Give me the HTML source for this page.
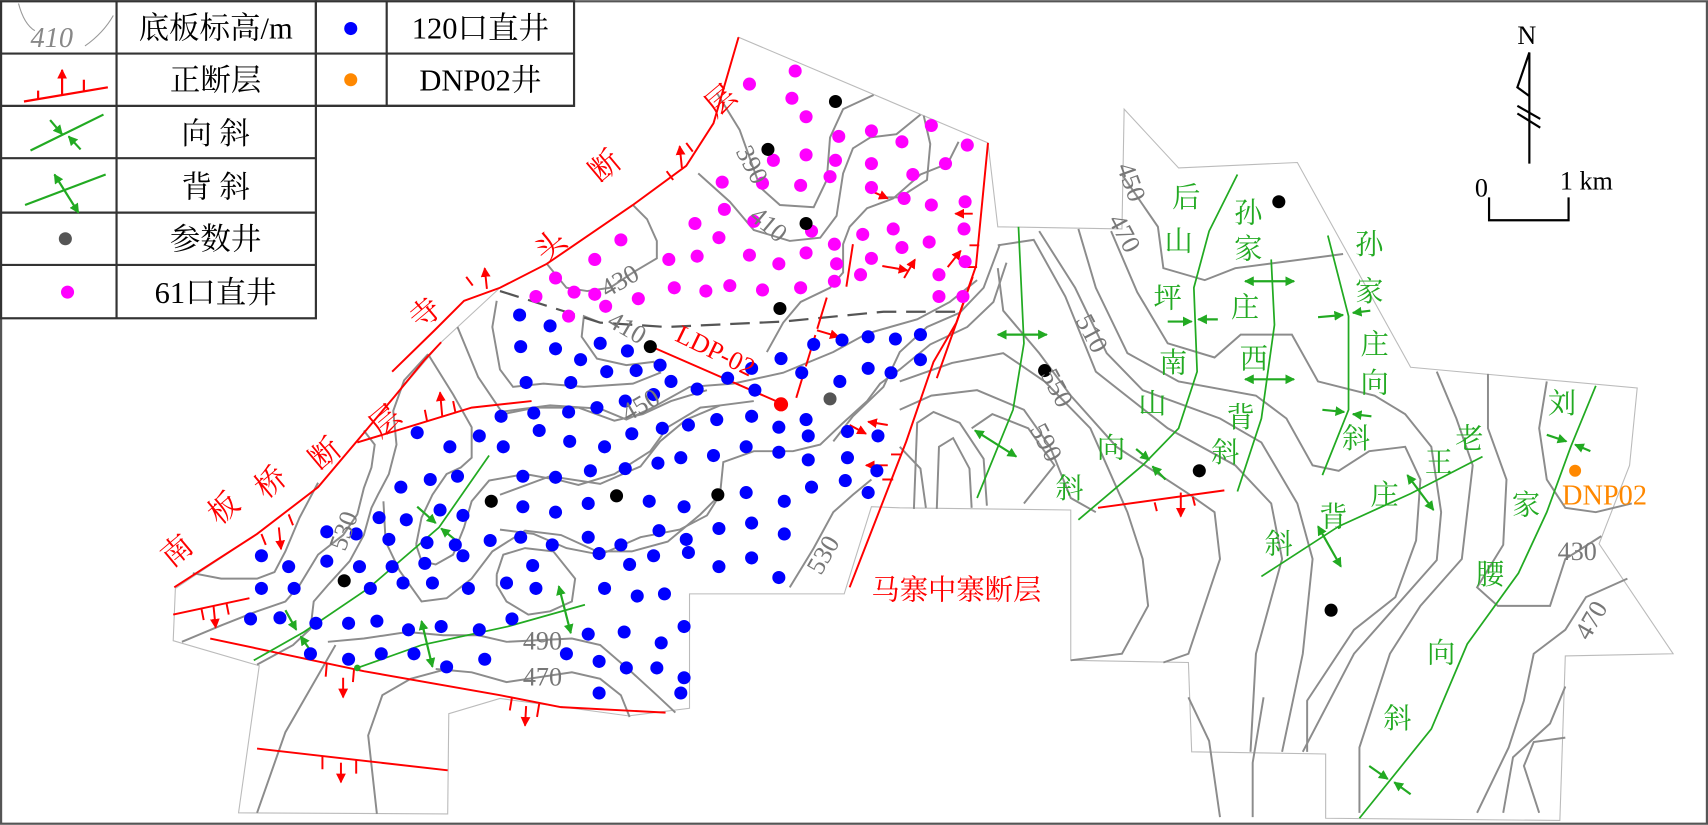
<!DOCTYPE html>
<html><head><meta charset="utf-8"><style>
html,body{margin:0;padding:0;background:#fff;}
svg{display:block;}
text{font-family:"Liberation Serif","Noto Serif CJK SC","Noto Sans CJK SC",serif;}
</style></head><body>
<svg width="1708" height="825" viewBox="0 0 1568 757" xmlns="http://www.w3.org/2000/svg">
<defs>
<marker id="ar" markerWidth="9" markerHeight="9" refX="8" refY="4.5" orient="auto" markerUnits="userSpaceOnUse"><path d="M0,0 L9,4.5 L0,9 z" fill="#f00"/></marker>
<marker id="ag" markerWidth="9" markerHeight="9" refX="8" refY="4.5" orient="auto" markerUnits="userSpaceOnUse"><path d="M0,0 L9,4.5 L0,9 z" fill="#2a2"/></marker>
<marker id="ags" markerWidth="9" markerHeight="9" refX="1" refY="4.5" orient="auto" markerUnits="userSpaceOnUse"><path d="M9,0 L0,4.5 L9,9 z" fill="#2a2"/></marker>
</defs>
<rect x="1" y="1" width="1566" height="755" fill="#fff" stroke="#555" stroke-width="2"/>

<g fill="none" stroke="#bbb" stroke-width="1">
<polyline points="161,540 159,588 238,611 219,746 411,747 412,655 459,641 577,657 633,650 633,545 775,545 800,465 826,466 983,468 983,606 1091,608 1094,690 1217,692 1217,751 1432,753 1437,602 1536,600 1468,499 1496,427 1503,356 1295,337 1191,149 1082,154 1032,100 1030,210 916,208 907,131 678,34 655,113 630,152 581,188 502,242 459,264 405,314 330,402 292,447 236,490 161,540"/>
</g>

<g fill="none" stroke="#8c8c8c" stroke-width="1.8">
<polyline points="1030,160 1063,208 1068,246 1106,257 1134,246 1233,233"/>
<polyline points="1020,212 1044,268 1072,315 1115,328 1139,307 1186,307 1210,350 1262,363 1290,380 1314,410 1323,470 1319,514 1243,600 1196,690"/>
<polyline points="990,210 1006,264 1035,324 1082,350 1153,363 1181,384 1205,427 1229,432 1257,414 1290,410 1304,440 1300,496 1281,548 1243,578 1200,643 1200,690"/>
<polyline points="954,212 987,264 1016,324 1049,358 1120,384 1158,406 1191,462 1205,513 1196,600 1177,690"/>
<polyline points="916,225 949,220 978,272 1006,341 1072,393 1134,427 1167,462 1177,513 1153,600 1148,690"/>
<polyline points="916,246 921,285 954,324 983,363 1025,410 1091,453 1115,470 1120,513 1091,600 1068,608"/>
<polyline points="826,350 874,333 921,324 959,350 1001,393 1016,427 1035,470 1049,513 1054,556 1030,600 983,606"/>
<polyline points="826,376 855,363 897,358 940,376 964,410 983,457 1006,470"/>
<polyline points="892,393 911,380 944,393 968,427 940,462"/>
<polyline points="826,410 845,430 850,466"/>
<polyline points="1420,350 1413,393 1420,440 1437,466 1465,470 1498,462"/>
<polyline points="1366,343 1366,393 1383,440 1380,500 1356,539 1375,556 1423,556 1437,513 1470,492"/>
<polyline points="1319,341 1337,384 1352,427 1347,470 1342,513 1304,556 1276,600 1262,643 1248,686 1248,746"/>
<polyline points="1494,531 1456,548 1437,578 1408,600 1399,643 1385,686 1356,746"/>
<polyline points="1437,630 1423,664 1389,695 1380,746"/>
<polyline points="1437,677 1408,681 1399,703 1413,746"/>
<polyline points="1091,640 1110,680 1120,750"/>
<polyline points="1160,640 1150,700 1150,750"/>
<polyline points="658,85 679,119 698,172 716,188 747,190 759,165 762,126 774,100 802,87"/>
<polyline points="641,159 670,185 692,211 725,221 753,218 768,198 774,159 783,136 799,126 823,123 845,105"/>
<polyline points="848,106 854,132 851,165 826,181 814,181"/>
<polyline points="459,378 505,372 551,375 575,385 597,375 633,355 673,352 719,342 765,323 796,306 842,293 872,277 897,257"/>
<polyline points="551,296 536,290 534,309 548,329 575,335 600,332 606,342 581,352 536,355 499,352 471,355 459,339 452,300 456,276"/>
<polyline points="502,242 520,264 539,267 560,264 581,250 603,237 603,221 594,201 581,188"/>
<polyline points="704,323 719,296 735,277 762,264 774,250 774,224 780,208 796,191 820,182 845,160 870,150 880,130"/>
<polyline points="765,405 783,382 811,355 826,323 851,300 881,287 903,264 918,224"/>
<polyline points="661,454 664,424 692,414 728,414 753,408 774,388 796,368 808,352 826,339 854,316 888,300 912,277 924,241"/>
<polyline points="459,454 505,437 551,444 588,428 606,405 630,385 661,372 692,368"/>
<polyline points="459,486 490,490 520,503 551,509 588,493 624,486 649,473 661,454"/>
<polyline points="725,539 747,503 765,470 783,454 800,440"/>
<polyline points="839,467 842,388 857,378 881,388 903,421 906,464"/>
<polyline points="860,467 862,410 875,402 890,430 892,466"/>
<polyline points="177,526 203,531 236,531 252,525 262,506 275,475 292,443"/>
<polyline points="167,589 203,574 236,561 262,552 275,537 292,509 315,491 328,472 334,448 341,429 344,408 334,395"/>
<polyline points="236,610 269,592 285,577 288,552 301,537 321,515 334,491 341,466 347,454 357,435 364,408 361,377 371,349 393,325"/>
<polyline points="352,460 354,497 367,524 387,552 410,549 433,531 452,506 482,487 515,491 548,506 580,506 613,497 643,472 661,454"/>
<polyline points="382,500 387,515 400,518 416,509 426,484 433,460 449,441 482,435 515,441 531,445 564,435 597,414 613,392 643,374 661,372"/>
<polyline points="393,325 416,362 433,392 433,420 423,429 410,435 397,454 387,475 382,500"/>
<polyline points="420,300 439,346 462,380 492,374 531,374 564,386 590,380 616,368 649,358"/>
<polyline points="456,527 462,509 482,503 508,506 528,531 525,552 505,561 485,564 465,552 456,537 456,527"/>
<polyline points="301,589 334,586 374,580 407,583 439,583 465,589 525,586 551,592 580,617 603,638 620,654"/>
<polyline points="400,614 433,617 465,626 525,617 551,623 570,638 578,658"/>
<polyline points="236,746 262,672 285,632 308,592"/>
<polyline points="346,747 338,675 351,638 377,623 410,614"/>
</g>

<polyline points="459,267 551,296 612,300 719,295 811,286 878,286" fill="none" stroke="#555" stroke-width="2" stroke-dasharray="18,9"/>

<g fill="none" stroke="#f00" stroke-width="1.8">
<polyline points="160,539 236,490 292,447 330,402 362,364 390,330 405,314"/>
<polyline points="360,341 399,303 426,276 459,264 502,242 581,188 630,152 655,113 678,34"/>
<polyline points="328,406 384,389 433,374 488,368"/>
<polyline points="159,564 229,549"/>
<polyline points="193,586 334,616 459,638 515,649 611,654"/>
<polyline points="236,687 411,707"/>
<polyline points="907,131 896,244 878,296 857,332 832,405 808,467 780,539"/>
<polyline points="893,254 860,347"/>
<polyline points="759,273 731,365" stroke-dasharray="30,6"/>
<polyline points="783,224 777,263"/>
<polyline points="598,318 717,370"/>
<polyline points="1008,466 1124,450"/>
<path d="M240,490 l4,10 M265,472 l4,10 M392,386 l-2,-10 M418,378 l-2,-10 M185,559 l2,10 M208,554 l2,10 M300,609 l-1,12 M325,614 l-1,12 M470,640 l-2,12 M495,646 l-2,12 M296,694 l0,12 M327,698 l0,12 M434,262 l-6,-8 M618,165 l-6,-8 M636,139 l-6,-8 M1060,461 l2,8 M1095,456 l2,8 M899,225 l-9,0 M897,245 l-9,0 M828,417 l-10,0 M820,440 l-10,0"/>
</g>
<g stroke="#f00" stroke-width="1.8" marker-end="url(#ar)">
<line x1="256" y1="484" x2="258" y2="504"/>
<line x1="406" y1="382" x2="404" y2="360"/>
<line x1="196" y1="556" x2="198" y2="576"/>
<line x1="315" y1="622" x2="315" y2="640"/>
<line x1="483" y1="648" x2="482" y2="666"/>
<line x1="313" y1="700" x2="313" y2="718"/>
<line x1="447" y1="265" x2="445" y2="246"/>
<line x1="626" y1="154" x2="624" y2="134"/>
<line x1="1084" y1="452" x2="1084" y2="474"/>
<line x1="795" y1="173" x2="815" y2="182"/>
<line x1="810" y1="244" x2="833" y2="248"/>
<line x1="830" y1="255" x2="840" y2="238"/>
<line x1="870" y1="245" x2="882" y2="230"/>
<line x1="893" y1="196" x2="877" y2="196"/>
<line x1="750" y1="303" x2="770" y2="309"/>
<line x1="780" y1="390" x2="795" y2="398"/>
<line x1="815" y1="390" x2="797" y2="387"/>
<line x1="815" y1="427" x2="795" y2="427"/>
</g>

<g fill="none" stroke="#2a2" stroke-width="1.6">
<polyline points="449,418 403,484 338,540 279,580 233,606"/>
<polyline points="328,613 387,592 466,575 537,555"/>
<polyline points="1136,160 1110,212 1096,264 1099,341 1082,393 1049,427 990,477"/>
<polyline points="1167,238 1170,298 1158,384 1136,451"/>
<polyline points="1219,216 1238,290 1238,376 1214,436"/>
<polyline points="1361,419 1295,453 1229,483 1158,529"/>
<polyline points="1465,354 1442,410 1420,470 1394,526 1347,591 1314,669 1248,751"/>
<polyline points="935,208 940,315 930,376 897,457"/>
</g>
<circle cx="328" cy="613" r="3" fill="#2a2"/>
<g stroke="#2a2" stroke-width="2">
<line x1="387" y1="570" x2="397" y2="612" marker-start="url(#ags)" marker-end="url(#ag)"/>
<line x1="513" y1="538" x2="524" y2="581" marker-start="url(#ags)" marker-end="url(#ag)"/>
<line x1="1143" y1="258" x2="1188" y2="258" marker-start="url(#ags)" marker-end="url(#ag)"/>
<line x1="1143" y1="348" x2="1188" y2="348" marker-start="url(#ags)" marker-end="url(#ag)"/>
<line x1="1292" y1="436" x2="1316" y2="468" marker-start="url(#ags)" marker-end="url(#ag)"/>
<line x1="1210" y1="483" x2="1231" y2="520" marker-start="url(#ags)" marker-end="url(#ag)"/>
<line x1="916" y1="307" x2="961" y2="307" marker-start="url(#ags)" marker-end="url(#ag)"/>
<line x1="895" y1="395" x2="933" y2="419" marker-start="url(#ags)" marker-end="url(#ag)"/>
<line x1="383" y1="465" x2="400" y2="480" marker-end="url(#ag)"/>
<line x1="420" y1="497" x2="405" y2="485" marker-end="url(#ag)"/>
<line x1="262" y1="560" x2="272" y2="578" marker-end="url(#ag)"/>
<line x1="287" y1="600" x2="276" y2="584" marker-end="url(#ag)"/>
<line x1="1072" y1="295" x2="1094" y2="295" marker-end="url(#ag)"/>
<line x1="1118" y1="293" x2="1100" y2="293" marker-end="url(#ag)"/>
<line x1="1043" y1="412" x2="1055" y2="422" marker-end="url(#ag)"/>
<line x1="1070" y1="440" x2="1058" y2="428" marker-end="url(#ag)"/>
<line x1="1210" y1="291" x2="1233" y2="289" marker-end="url(#ag)"/>
<line x1="1258" y1="285" x2="1242" y2="287" marker-end="url(#ag)"/>
<line x1="1214" y1="376" x2="1234" y2="378" marker-end="url(#ag)"/>
<line x1="1259" y1="382" x2="1242" y2="380" marker-end="url(#ag)"/>
<line x1="1420" y1="399" x2="1438" y2="405" marker-end="url(#ag)"/>
<line x1="1460" y1="414" x2="1446" y2="408" marker-end="url(#ag)"/>
<line x1="1257" y1="703" x2="1274" y2="715" marker-end="url(#ag)"/>
<line x1="1295" y1="729" x2="1280" y2="718" marker-end="url(#ag)"/>
</g>

<g fill="#f0f">
<circle cx="730" cy="65" r="6"/><circle cx="688" cy="77" r="6"/><circle cx="727" cy="90" r="6"/><circle cx="740" cy="107" r="6"/><circle cx="770" cy="125" r="6"/><circle cx="800" cy="120" r="6"/><circle cx="828" cy="130" r="6"/><circle cx="855" cy="115" r="6"/><circle cx="888" cy="133" r="6"/><circle cx="710" cy="147" r="6"/><circle cx="740" cy="142" r="6"/><circle cx="767" cy="147" r="6"/><circle cx="800" cy="150" r="6"/><circle cx="838" cy="160" r="6"/><circle cx="868" cy="150" r="6"/><circle cx="663" cy="167" r="6"/><circle cx="700" cy="168" r="6"/><circle cx="735" cy="170" r="6"/><circle cx="762" cy="162" r="6"/><circle cx="800" cy="172" r="6"/><circle cx="830" cy="182" r="6"/><circle cx="855" cy="188" r="6"/><circle cx="886" cy="185" r="6"/><circle cx="638" cy="205" r="6"/><circle cx="665" cy="192" r="6"/><circle cx="692" cy="203" r="6"/><circle cx="745" cy="212" r="6"/><circle cx="766" cy="224" r="6"/><circle cx="792" cy="215" r="6"/><circle cx="820" cy="210" r="6"/><circle cx="853" cy="222" r="6"/><circle cx="885" cy="210" r="6"/><circle cx="660" cy="218" r="6"/><circle cx="688" cy="234" r="6"/><circle cx="715" cy="242" r="6"/><circle cx="740" cy="232" r="6"/><circle cx="768" cy="242" r="6"/><circle cx="800" cy="237" r="6"/><circle cx="828" cy="227" r="6"/><circle cx="862" cy="252" r="6"/><circle cx="886" cy="240" r="6"/><circle cx="670" cy="262" r="6"/><circle cx="700" cy="266" r="6"/><circle cx="735" cy="264" r="6"/><circle cx="766" cy="258" r="6"/><circle cx="790" cy="252" r="6"/><circle cx="862" cy="272" r="6"/><circle cx="884" cy="272" r="6"/><circle cx="546" cy="238" r="6"/><circle cx="570" cy="220" r="6"/><circle cx="510" cy="255" r="6"/><circle cx="527" cy="268" r="6"/><circle cx="556" cy="281" r="6"/><circle cx="586" cy="274" r="6"/><circle cx="619" cy="264" r="6"/><circle cx="648" cy="267" r="6"/><circle cx="522" cy="290" r="6"/><circle cx="546" cy="270" r="6"/><circle cx="492" cy="272" r="6"/><circle cx="614" cy="238" r="6"/><circle cx="640" cy="235" r="6"/>
</g>
<g fill="#00f">
<circle cx="477" cy="289" r="6"/><circle cx="505" cy="299" r="6"/><circle cx="478" cy="318" r="6"/><circle cx="510" cy="320" r="6"/><circle cx="533" cy="330" r="6"/><circle cx="551" cy="315" r="6"/><circle cx="576" cy="322" r="6"/><circle cx="483" cy="351" r="6"/><circle cx="524" cy="351" r="6"/><circle cx="557" cy="341" r="6"/><circle cx="584" cy="340" r="6"/><circle cx="606" cy="335" r="6"/><circle cx="460" cy="382" r="6"/><circle cx="490" cy="379" r="6"/><circle cx="522" cy="378" r="6"/><circle cx="548" cy="374" r="6"/><circle cx="574" cy="368" r="6"/><circle cx="600" cy="362" r="6"/><circle cx="616" cy="350" r="6"/><circle cx="640" cy="357" r="6"/><circle cx="668" cy="347" r="6"/><circle cx="690" cy="338" r="6"/><circle cx="717" cy="329" r="6"/><circle cx="747" cy="316" r="6"/><circle cx="773" cy="312" r="6"/><circle cx="797" cy="309" r="6"/><circle cx="822" cy="311" r="6"/><circle cx="845" cy="307" r="6"/><circle cx="736" cy="342" r="6"/><circle cx="771" cy="350" r="6"/><circle cx="797" cy="338" r="6"/><circle cx="818" cy="342" r="6"/><circle cx="845" cy="330" r="6"/><circle cx="693" cy="358" r="6"/><circle cx="740" cy="385" r="6"/><circle cx="742" cy="400" r="6"/><circle cx="778" cy="396" r="6"/><circle cx="806" cy="400" r="6"/><circle cx="778" cy="420" r="6"/><circle cx="797" cy="452" r="6"/><circle cx="776" cy="441" r="6"/><circle cx="805" cy="432" r="6"/>
<circle cx="383" cy="397" r="6"/><circle cx="413" cy="410" r="6"/><circle cx="440" cy="400" r="6"/><circle cx="462" cy="410" r="6"/><circle cx="495" cy="395" r="6"/><circle cx="523" cy="405" r="6"/><circle cx="555" cy="410" r="6"/><circle cx="580" cy="398" r="6"/><circle cx="608" cy="393" r="6"/><circle cx="632" cy="390" r="6"/><circle cx="658" cy="385" r="6"/><circle cx="690" cy="382" r="6"/><circle cx="715" cy="392" r="6"/>
<circle cx="368" cy="447" r="6"/><circle cx="395" cy="440" r="6"/><circle cx="420" cy="437" r="6"/><circle cx="480" cy="437" r="6"/><circle cx="510" cy="438" r="6"/><circle cx="542" cy="432" r="6"/><circle cx="574" cy="430" r="6"/><circle cx="604" cy="425" r="6"/><circle cx="625" cy="420" r="6"/><circle cx="655" cy="418" r="6"/><circle cx="685" cy="410" r="6"/><circle cx="715" cy="415" r="6"/><circle cx="742" cy="422" r="6"/>
<circle cx="348" cy="475" r="6"/><circle cx="373" cy="477" r="6"/><circle cx="404" cy="468" r="6"/><circle cx="425" cy="473" r="6"/><circle cx="480" cy="465" r="6"/><circle cx="510" cy="470" r="6"/><circle cx="540" cy="462" r="6"/><circle cx="596" cy="460" r="6"/><circle cx="628" cy="465" r="6"/><circle cx="685" cy="452" r="6"/><circle cx="720" cy="460" r="6"/><circle cx="745" cy="447" r="6"/>
<circle cx="300" cy="488" r="6"/><circle cx="327" cy="490" r="6"/><circle cx="357" cy="495" r="6"/><circle cx="392" cy="498" r="6"/><circle cx="418" cy="500" r="6"/><circle cx="450" cy="496" r="6"/><circle cx="478" cy="493" r="6"/><circle cx="507" cy="500" r="6"/><circle cx="540" cy="493" r="6"/><circle cx="570" cy="500" r="6"/><circle cx="605" cy="487" r="6"/><circle cx="630" cy="495" r="6"/><circle cx="660" cy="485" r="6"/><circle cx="690" cy="480" r="6"/><circle cx="720" cy="490" r="6"/>
<circle cx="240" cy="510" r="6"/><circle cx="265" cy="520" r="6"/><circle cx="300" cy="515" r="6"/><circle cx="330" cy="520" r="6"/><circle cx="360" cy="520" r="6"/><circle cx="390" cy="517" r="6"/><circle cx="425" cy="510" r="6"/><circle cx="489" cy="519" r="6"/><circle cx="550" cy="508" r="6"/><circle cx="578" cy="518" r="6"/><circle cx="600" cy="510" r="6"/><circle cx="632" cy="507" r="6"/><circle cx="660" cy="520" r="6"/><circle cx="690" cy="512" r="6"/><circle cx="715" cy="530" r="6"/>
<circle cx="240" cy="540" r="6"/><circle cx="270" cy="540" r="6"/><circle cx="340" cy="540" r="6"/><circle cx="370" cy="535" r="6"/><circle cx="397" cy="535" r="6"/><circle cx="430" cy="540" r="6"/><circle cx="465" cy="535" r="6"/><circle cx="492" cy="540" r="6"/><circle cx="555" cy="540" r="6"/><circle cx="585" cy="547" r="6"/><circle cx="610" cy="545" r="6"/>
<circle cx="230" cy="568" r="6"/><circle cx="257" cy="567" r="6"/><circle cx="290" cy="572" r="6"/><circle cx="320" cy="572" r="6"/><circle cx="346" cy="570" r="6"/><circle cx="375" cy="578" r="6"/><circle cx="405" cy="575" r="6"/><circle cx="440" cy="578" r="6"/><circle cx="470" cy="568" r="6"/><circle cx="540" cy="582" r="6"/><circle cx="573" cy="580" r="6"/><circle cx="607" cy="590" r="6"/><circle cx="628" cy="575" r="6"/>
<circle cx="285" cy="600" r="6"/><circle cx="320" cy="605" r="6"/><circle cx="350" cy="600" r="6"/><circle cx="380" cy="600" r="6"/><circle cx="410" cy="612" r="6"/><circle cx="445" cy="605" r="6"/><circle cx="520" cy="600" r="6"/><circle cx="550" cy="607" r="6"/><circle cx="575" cy="613" r="6"/><circle cx="603" cy="613" r="6"/><circle cx="628" cy="622" r="6"/>
<circle cx="550" cy="636" r="6"/><circle cx="625" cy="636" r="6"/>
</g>
<g fill="#000">
<circle cx="767" cy="93" r="6"/><circle cx="705" cy="137" r="6"/><circle cx="740" cy="205" r="6"/><circle cx="716" cy="283" r="6"/><circle cx="597" cy="318" r="6"/><circle cx="451" cy="460" r="6"/><circle cx="316" cy="533" r="6"/><circle cx="566" cy="455" r="6"/><circle cx="659" cy="454" r="6"/><circle cx="1174" cy="185" r="6"/><circle cx="959" cy="340" r="6"/><circle cx="1101" cy="432" r="6"/><circle cx="1222" cy="560" r="6"/>
</g>
<circle cx="762" cy="366" r="6" fill="#555"/>
<circle cx="717" cy="371" r="6.5" fill="#f00"/>
<circle cx="1446" cy="432" r="5.5" fill="#f80"/>

<g fill="#f00" font-size="28">
<text x="148" y="515" transform="rotate(-40 162 505)">南</text>
<text x="191" y="476" transform="rotate(-40 205 466)">板</text>
<text x="234" y="452" transform="rotate(-40 248 442)">桥</text>
<text x="284" y="426" transform="rotate(-40 298 416)">断</text>
<text x="339" y="396" transform="rotate(-40 353 386)">层</text>
<text x="376" y="297" transform="rotate(-40 390 287)">寺</text>
<text x="491" y="235" transform="rotate(-40 505 225)">头</text>
<text x="541" y="162" transform="rotate(-40 555 152)">断</text>
<text x="647" y="102" transform="rotate(-40 661 92)">层</text>
<text x="800" y="550" font-size="26">马寨中寨断层</text>
<text x="615" y="332" font-size="24" transform="rotate(26 660 330)">LDP-02</text>
</g>
<g fill="#777" font-size="24">
<text x="1022" y="173" transform="rotate(70 1038 165)">450</text>
<text x="1015" y="221" transform="rotate(62 1032 213)">470</text>
<text x="985" y="313" transform="rotate(62 1002 305)">510</text>
<text x="953" y="363" transform="rotate(62 970 355)">550</text>
<text x="943" y="413" transform="rotate(62 960 405)">590</text>
<text x="1430" y="514">430</text>
<text x="1443" y="578" transform="rotate(-60 1460 570)">470</text>
<text x="480" y="596">490</text>
<text x="480" y="629">470</text>
<text x="298" y="496" transform="rotate(-70 315 488)">530</text>
<text x="738" y="518" transform="rotate(-60 755 510)">530</text>
<text x="570" y="380" transform="rotate(-30 587 372)">450</text>
<text x="558" y="308" transform="rotate(30 575 300)">410</text>
<text x="551" y="266" transform="rotate(-30 568 258)">430</text>
<text x="688" y="213" transform="rotate(40 705 205)">410</text>
<text x="673" y="158" transform="rotate(62 690 150)">390</text>
</g>
<g fill="#2a2" font-size="26">
<text x="1076" y="190">后</text><text x="1069" y="230">山</text><text x="1059" y="282">坪</text><text x="1064" y="342">南</text><text x="1045" y="379">山</text><text x="1007" y="420">向</text><text x="969" y="457">斜</text>
<text x="1133" y="204">孙</text><text x="1133" y="237">家</text><text x="1130" y="291">庄</text><text x="1138" y="338">西</text><text x="1126" y="392">背</text><text x="1112" y="424">斜</text>
<text x="1244" y="233">孙</text><text x="1244" y="276">家</text><text x="1249" y="325">庄</text><text x="1249" y="360">向</text><text x="1232" y="411">斜</text>
<text x="1336" y="411">老</text><text x="1308" y="433">王</text><text x="1258" y="463">庄</text><text x="1211" y="483">背</text><text x="1161" y="508">斜</text>
<text x="1421" y="379">刘</text><text x="1388" y="472">家</text><text x="1355" y="536">腰</text><text x="1310" y="608">向</text><text x="1270" y="668">斜</text>
</g>
<text x="1434" y="463" fill="#f80" font-size="26">DNP02</text>

<g stroke="#000" stroke-width="2" fill="none">
<polyline points="1404,150 1404,48 1393,80 1404,88"/>
<line x1="1393" y1="97" x2="1414" y2="109"/><line x1="1393" y1="104" x2="1414" y2="117"/>
<polyline points="1367,181 1367,202 1440,202 1440,181"/>
</g>
<text x="1393" y="40" font-size="24">N</text>
<text x="1354" y="180" font-size="24">0</text>
<text x="1432" y="174" font-size="24">1 km</text>

<g fill="#fff" stroke="#333" stroke-width="2">
<rect x="1" y="1" width="289" height="291"/>
<rect x="290" y="1" width="237" height="96"/>
</g>
<g stroke="#333" stroke-width="2">
<line x1="107" y1="1" x2="107" y2="292"/>
<line x1="355" y1="1" x2="355" y2="97"/>
<line x1="1" y1="49" x2="527" y2="49"/>
<line x1="1" y1="97" x2="527" y2="97"/>
<line x1="1" y1="145" x2="290" y2="145"/>
<line x1="1" y1="195" x2="290" y2="195"/>
<line x1="1" y1="243" x2="290" y2="243"/>
</g>
<path d="M17,3 Q22,22 32,28 M104,14 Q95,30 78,42" fill="none" stroke="#999" stroke-width="1"/>
<text x="28" y="43" font-size="26" fill="#888" font-style="italic">410</text>
<g stroke="#f00" stroke-width="2" fill="none">
<line x1="22" y1="93" x2="99" y2="80"/>
<line x1="35" y1="91" x2="35" y2="83"/><line x1="77" y1="83" x2="77" y2="73"/>
<line x1="57" y1="87" x2="57" y2="64" marker-end="url(#ar)"/>
</g>
<g stroke="#2a2" stroke-width="2" fill="none">
<line x1="28" y1="138" x2="95" y2="105"/>
<line x1="46" y1="110" x2="57" y2="123" marker-end="url(#ag)"/>
<line x1="74" y1="137" x2="63" y2="125" marker-end="url(#ag)"/>
<line x1="23" y1="188" x2="97" y2="160"/>
<line x1="50" y1="160" x2="72" y2="195" marker-start="url(#ags)" marker-end="url(#ag)"/>
</g>
<circle cx="60" cy="219" r="6" fill="#555"/>
<circle cx="62" cy="268" r="6" fill="#f0f"/>
<circle cx="322" cy="26" r="6" fill="#00f"/>
<circle cx="322" cy="73" r="6" fill="#f80"/>
<g font-size="28" fill="#000" text-anchor="middle">
<text x="198" y="35">底板标高/m</text>
<text x="198" y="83">正断层</text>
<text x="198" y="132">向  斜</text>
<text x="198" y="181">背  斜</text>
<text x="198" y="229">参数井</text>
<text x="198" y="278">61口直井</text>
<text x="441" y="35">120口直井</text>
<text x="441" y="83">DNP02井</text>
</g>
</svg>
</body></html>
